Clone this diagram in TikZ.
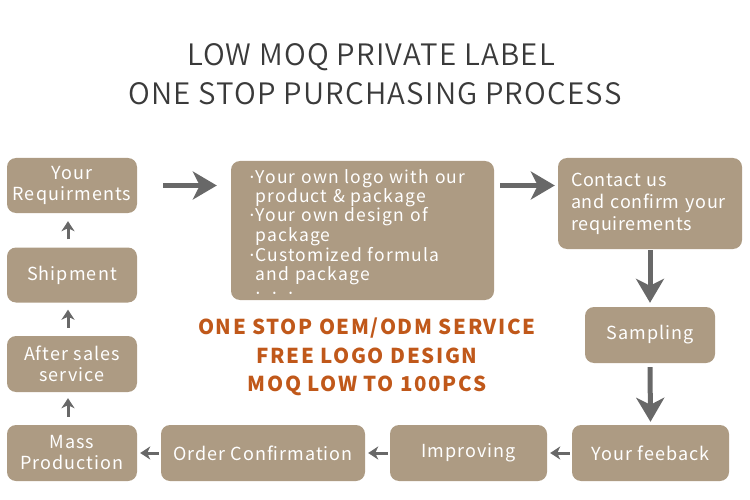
\documentclass[tikz,border=0pt]{standalone}
\usepackage{fontspec}
\setmainfont{Noto Sans CJK SC}
\newfontfamily\titlefont{Noto Sans CJK SC}[UprightFont={* DemiLight}]
\newfontfamily\dotfont{Noto Sans}
\usepackage{tikz}
\usetikzlibrary{arrows.meta,positioning}
\definecolor{boxtan}{RGB}{173,155,131}
\definecolor{arrowgray}{RGB}{104,104,104}
\definecolor{titlegray}{RGB}{58,58,58}
\definecolor{promoorange}{RGB}{192,88,26}
\newcommand{\bdot}{{\dotfont ·}\kern1.5pt}
\tikzstyle{pbox}=[rectangle,rounded corners=9pt,fill=boxtan,text=white,inner sep=0pt,
                  minimum height=55pt,align=center,
                  font=\fontsize{18}{21}\selectfont\addfontfeatures{LetterSpace=6}]
\tikzstyle{ptitle}=[anchor=base,text=titlegray,font=\titlefont\fontsize{29.5}{39}\selectfont\addfontfeatures{LetterSpace=4}]
\tikzstyle{ppromo}=[anchor=base,text=promoorange,font=\bfseries\fontsize{20.5}{28}\selectfont\addfontfeatures{LetterSpace=8}]
\tikzstyle{bigarrow}=[-{Stealth[length=24pt,width=28pt,inset=7pt]},line width=5pt,draw=arrowgray]
\tikzstyle{smallarrow}=[-{Stealth[length=10pt,width=13pt,inset=3pt]},line width=3pt,draw=arrowgray]

\begin{document}
\begin{tikzpicture}[x=1pt,y=-1pt]
      \useasboundingbox (0,0) rectangle (750,500);
      % title
      \node[ptitle] (title1) at (371,66) {LOW MOQ PRIVATE LABEL};
      \node[ptitle] (title2) at (375,105) {ONE STOP PURCHASING PROCESS};
      % left column
      \node[pbox,minimum width=130pt] (req) at (72,185.5) {Your\\Requirments};
      \node[pbox,minimum width=130pt] (ship) at (72,275) {Shipment};
      \node[pbox,minimum width=130pt,minimum height=56pt] (after) at (72,364) {After sales\\service};
      \node[pbox,minimum width=130pt,minimum height=56pt] (mass) at (72,453) {Mass\\Production};
      % top row
      \node[pbox,minimum height=139pt,text width=226pt,inner xsep=18.5pt,align=left,
            text height=22pt,text depth=117pt,
            font=\fontsize{17.5}{19.5}\selectfont\addfontfeatures{LetterSpace=6.5}] (custom) at (362.5,230.5)
            {\bdot Your own logo with our\\\phantom{\bdot}product \& package\\\bdot Your own design of\\\phantom{\bdot}package\\\bdot Customized formula\\\phantom{\bdot}and package\\\phantom{\bdot}{\dotfont ·\ \ ·\ \ ·}};
      \node[pbox,minimum height=91pt,text width=158pt,inner xsep=13pt,align=left,
            font=\fontsize{18}{22}\selectfont\addfontfeatures{LetterSpace=4}] (contact) at (650,203.5)
            {Contact us\\and confirm your\\requirements};
      % right column and bottom row
      \node[pbox,minimum width=130pt,minimum height=56pt] (sampling) at (650,335) {Sampling};
      \node[pbox,minimum width=157pt,minimum height=56pt] (feedback) at (650.5,453) {Your feeback};
      \node[pbox,minimum width=157pt,minimum height=56pt] (improve) at (468.5,453) {Improving};
      \node[pbox,minimum width=204pt,minimum height=56pt] (order) at (263,453) {Order Confirmation};
      % promo text
      \node[ppromo] (promo1) at (367,334) {ONE STOP OEM/ODM SERVICE};
      \node[ppromo] (promo2) at (367,363) {FREE LOGO DESIGN};
      \node[ppromo] (promo3) at (367,391) {MOQ LOW TO 100PCS};
      % arrows
      \draw[bigarrow,shorten <=26pt,shorten >=14pt] (req.east) -- (custom.west |- req.east);
      \draw[bigarrow,shorten <=6pt,shorten >=3pt] (custom.east |- req.east) -- (contact.west |- req.east);
      \draw[bigarrow,shorten <=1pt,shorten >=4pt] (contact.south) -- (sampling.north);
      \draw[bigarrow,shorten <=4pt,shorten >=3pt] (sampling.south) -- (feedback.north);
      \draw[smallarrow,shorten <=2pt,shorten >=3pt] (feedback.west) -- (improve.east);
      \draw[smallarrow,shorten <=2pt,shorten >=3pt] (improve.west) -- (order.east);
      \draw[smallarrow,shorten <=2pt,shorten >=3pt] (order.west) -- (mass.east);
      \draw[smallarrow,shorten <=8pt,shorten >=6pt] ([xshift=-4pt]mass.north) -- ([xshift=-4pt]after.south);
      \draw[smallarrow,shorten <=8pt,shorten >=7pt] ([xshift=-4pt]after.north) -- ([xshift=-4pt]ship.south);
      \draw[smallarrow,shorten <=8pt,shorten >=8pt] ([xshift=-4pt]ship.north) -- ([xshift=-4pt]req.south);
    \end{tikzpicture}
\end{document}
